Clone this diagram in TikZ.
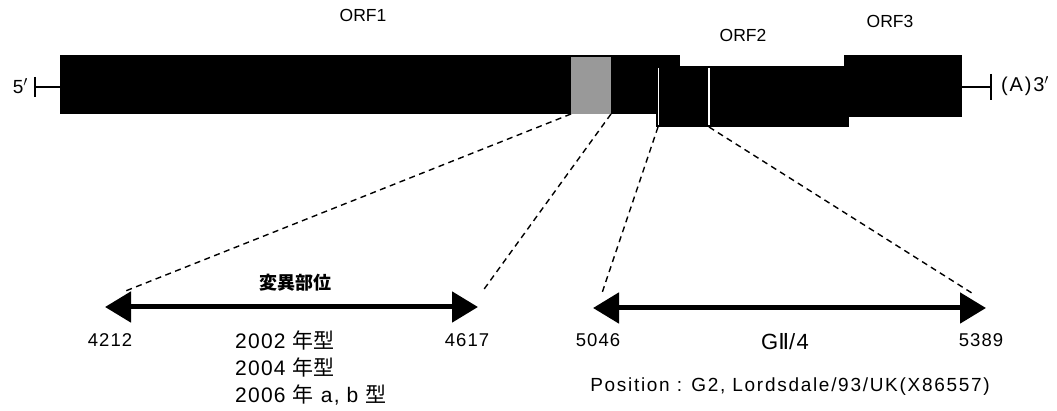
\documentclass[tikz,border=0pt]{standalone}
\usepackage{fontspec}
\setmainfont{Liberation Sans}
\newfontfamily\lat{Liberation Sans}[LetterSpace=6]
\newfontfamily\latw{Liberation Sans}[LetterSpace=9]
\newfontfamily\djv{DejaVu Sans}
\newfontfamily\cjk{Noto Sans CJK JP}
\usetikzlibrary{arrows.meta}
\newcommand{\fsz}[1]{\fontsize{#1}{#1}\selectfont}
\begin{document}
\begin{tikzpicture}[x=1pt,y=-1pt,
  box/.style={fill=black,draw=none,inner sep=0pt,outer sep=0pt,anchor=north west},
  lbl/.style={inner sep=0pt,text=black},
  guide/.style={dash pattern=on 6pt off 4.5pt,line width=1.4pt},
  span/.style={line width=5pt,{Triangle[length=26pt,width=30pt]}-{Triangle[length=26pt,width=30pt]}},
  endline/.style={line width=1.5pt}]
\useasboundingbox (0,0) rectangle (1057,411);
% genome boxes
\node[box,minimum width=620pt,minimum height=59pt] (orf1) at (60,55) {};
\node[box,fill=black!40,minimum width=40pt,minimum height=57pt] (mut) at (571,57) {};
\node[box,minimum width=193pt,minimum height=61pt] (orf2) at (656,66) {};
\node[box,minimum width=118pt,minimum height=62pt] (orf3) at (844,55) {};
\node[box,fill=none,minimum width=51pt,minimum height=61pt] (cap) at (658,66) {};
\draw[white,line width=1pt] ([yshift=-2pt]cap.north west) -- ([yshift=2pt]cap.south west);
\draw[white,line width=1.2pt] ([yshift=-2pt]cap.north east) -- ([yshift=2pt]cap.south east);
% ends
\coordinate (t5) at (35,87);
\coordinate (t3) at (991,87);
\draw[endline] (t5) -- (t5 -| orf1.west);
\draw[endline] ([yshift=10pt]t5) -- ([yshift=-10pt]t5);
\draw[endline] (t3 -| orf3.east) -- (t3);
\draw[endline] ([yshift=13pt]t3) -- ([yshift=-13pt]t3);
\node[lbl,font=\lat\fsz{19},anchor=east] (p5) at (28,86) {5$'$};
\node[lbl,font=\latw\fsz{20},anchor=west] (p3) at (1001,86) {(A)3$'$};
% ORF labels
\node[lbl,font=\fsz{17.5}] (l1) at (363,15) {ORF1};
\node[lbl,font=\fsz{17.5}] (l2) at (743,35) {ORF2};
\node[lbl,font=\fsz{17.5}] (l3) at (890,21) {ORF3};
% span arrows
\coordinate (a1) at (105,307);
\coordinate (a2) at (478,307);
\coordinate (b1) at (593,308);
\coordinate (b2) at (986,308);
\draw[span] (a1) -- (a2);
\draw[span] (b1) -- (b2);
% dashed guides
\coordinate (d1) at (123,292);
\coordinate (d2) at (482,292);
\coordinate (d3) at (602,293);
\coordinate (d4) at (975,295);
\draw[guide] (mut.south west) -- (d1);
\draw[guide] (mut.south east) -- (d2);
\draw[guide] (cap.south west) -- (d3);
\draw[guide] (cap.south east) -- (d4);
% labels
\node[lbl,font=\cjk\bfseries\fsz{18}] (hen) at (295,283) {変異部位};
\node[lbl,font=\lat\fsz{18.5}] (n1) at (110,340) {4212};
\node[lbl,font=\lat\fsz{18.5}] (n2) at (467,340) {4617};
\node[lbl,font=\lat\fsz{18.5}] (n3) at (598,340) {5046};
\node[lbl,font=\lat\fsz{18.5}] (n4) at (981,340) {5389};
\node[lbl,anchor=west,font=\lat\fsz{21}] (y1) at (235,340) {2002 {\cjk 年型}};
\node[lbl,anchor=west,font=\lat\fsz{21}] (y2) at (235,367) {2004 {\cjk 年型}};
\node[lbl,anchor=west,font=\lat\fsz{21}] (y3) at (235,395) {2006 {\cjk 年} a, b {\cjk 型}};
\node[lbl,font=\lat\fsz{22}] (gt) at (785,342) {G{\djv Ⅱ}/4};
\node[lbl,font=\latw\fsz{19}] (pos) at (790,387) {Position : G2, Lordsdale/93/UK(X86557)};
\end{tikzpicture}
\end{document}
